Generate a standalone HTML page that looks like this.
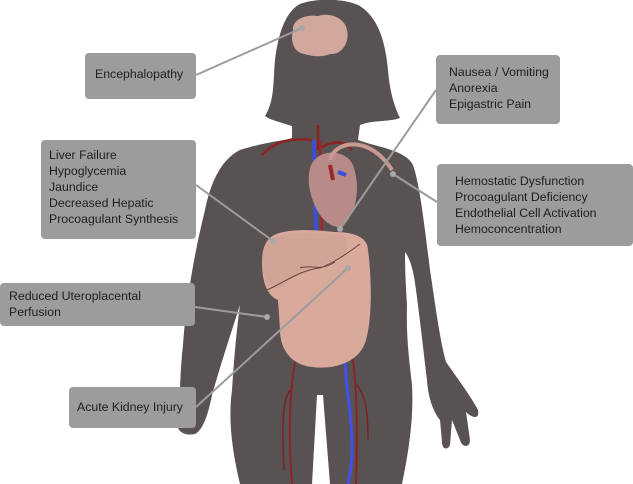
<!DOCTYPE html>
<html><head><style>
html,body{margin:0;padding:0;background:#fff;}
body{width:633px;height:484px;position:relative;overflow:hidden;font-family:"Liberation Sans",sans-serif;}
.b{position:absolute;background:#9c9c9c;border-radius:4px;color:#1e1e1e;font-size:12.3px;line-height:16px;box-sizing:border-box;}
svg{position:absolute;left:0;top:0;}
</style></head><body>
<svg width="633" height="484" viewBox="0 0 633 484">
<path fill="#595253" d="M300 4 C315 -2 345 -2 360 6 C378 18 385 40 388 70 C390 95 396 110 400 118 C390 122 372 120 360 125 L358 140 C380 148 405 150 413 165 C420 185 425 230 430 270 C436 310 440 340 446 362 C455 375 470 395 478 410 C480 420 472 418 466 412 L470 440 C470 448 462 448 460 440 L452 420 L450 445 C448 450 442 450 442 442 L440 420 C432 410 428 395 427 380 C424 355 420 320 416 290 C414 272 410 258 405 252 C405 270 406 290 407 305 C406 340 410 365 412 385 C414 420 408 455 402 484 L330 484 L323 395 L317 395 L312 484 L240 484 C232 450 228 420 232 390 C234 360 236 335 240 305 C232 330 222 360 212 395 C208 415 203 430 195 434 C185 436 175 432 178 420 C180 400 180 370 183 345 C186 300 195 250 205 210 C210 185 220 160 240 150 C265 142 288 140 292 138 L292 126 C280 122 270 120 265 116 C275 100 273 80 275 60 C278 35 285 12 300 4 Z"/>
<path fill="#d2a79c" d="M293 30 C292 20 305 14 318 16 C330 12 345 18 347 30 C350 42 342 55 330 54 C320 58 312 56 304 54 C294 52 290 42 293 30 Z"/>
<path d="M262 155 C275 140 295 138 312 140" stroke="#8a2424" stroke-width="2.5" fill="none"/>
<path d="M318 125 L318 150 M318 150 C330 140 345 140 352 150" stroke="#8a2424" stroke-width="2.5" fill="none"/>
<path d="M314 140 L316 235" stroke="#3c4ee0" stroke-width="3.5" fill="none"/>
<path d="M320 140 L322 235" stroke="#9a2828" stroke-width="2.5" fill="none"/>
<path d="M345 358 C345 380 350 400 352 440 C353 460 350 475 348 484" stroke="#4050e8" stroke-width="3" fill="none"/>
<path d="M352 355 C356 380 358 410 356 484" stroke="#8a2424" stroke-width="2" fill="none"/>
<path d="M295 362 C290 390 288 430 292 484" stroke="#8a2424" stroke-width="2" fill="none"/>
<path d="M290 390 C282 400 282 430 284 470" stroke="#7a2222" stroke-width="1.5" fill="none"/>
<path d="M357 385 C365 395 368 410 368 440" stroke="#7a2222" stroke-width="1.5" fill="none"/>
<path fill="#b88a88" d="M310 168 C316 148 345 148 353 165 C360 185 358 208 345 224 C336 232 322 222 315 206 C309 192 307 180 310 168 Z"/>
<path d="M330 160 C335 140 370 135 392 170" stroke="#c99a92" stroke-width="4" fill="none"/>
<path d="M330 165 L333 180" stroke="#9a2828" stroke-width="4"/>
<path d="M338 172 L346 175" stroke="#3c4ee0" stroke-width="4"/>
<path fill="#d9aa9c" d="M268 240 C275 230 300 228 335 232 C355 232 368 238 368 250 C372 280 372 320 366 340 C360 362 335 370 312 367 C292 365 280 350 280 330 L278 300 C266 295 262 280 262 262 C262 252 264 245 268 240 Z"/>
<path fill="#caa093" d="M262 262 C262 250 266 242 272 238 C290 232 315 232 345 236 C352 250 345 260 330 262 C310 268 295 270 285 285 C275 292 264 290 262 262 Z" opacity="0.6"/>
<path d="M267 290 C285 282 300 270 320 268 C335 262 345 255 360 244" stroke="#6a4040" stroke-width="1" fill="none"/>
<path d="M300 268 C310 264 320 272 335 262" stroke="#6a4040" stroke-width="1" fill="none"/>
<g stroke="#9c9c9c" stroke-width="2" fill="none">
<line x1="196" y1="75" x2="302" y2="28"/>
<line x1="436" y1="90" x2="340" y2="229"/>
<line x1="196" y1="185" x2="273" y2="241"/>
<line x1="437" y1="202" x2="393" y2="174"/>
<line x1="195" y1="307" x2="267" y2="317"/>
<line x1="196" y1="407" x2="348" y2="268"/>
</g>
<g fill="#a8a8a8">
<circle cx="302" cy="28" r="3"/><circle cx="340" cy="229" r="3"/><circle cx="273" cy="241" r="3"/>
<circle cx="393" cy="174" r="3"/><circle cx="267" cy="317" r="3"/><circle cx="348" cy="268" r="3"/>
</g>
</svg>
<div class="b" style="left:85px;top:53px;width:111px;height:46px;padding:13px 0 0 10px;">Encephalopathy</div>
<div class="b" style="left:41px;top:140px;width:155px;height:99px;padding:7px 0 0 8px;">Liver Failure<br>Hypoglycemia<br>Jaundice<br>Decreased Hepatic<br>Procoagulant Synthesis</div>
<div class="b" style="left:436px;top:55px;width:124px;height:69px;padding:9px 0 0 13px;">Nausea / Vomiting<br>Anorexia<br>Epigastric Pain</div>
<div class="b" style="left:437px;top:164px;width:196px;height:82px;padding:9px 0 0 18px;">Hemostatic Dysfunction<br>Procoagulant Deficiency<br>Endothelial Cell Activation<br>Hemoconcentration</div>
<div class="b" style="left:0px;top:283px;width:195px;height:43px;padding:5px 0 0 9px;">Reduced Uteroplacental<br>Perfusion</div>
<div class="b" style="left:69px;top:387px;width:127px;height:41px;padding:12px 0 0 8px;">Acute Kidney Injury</div>
</body></html>
